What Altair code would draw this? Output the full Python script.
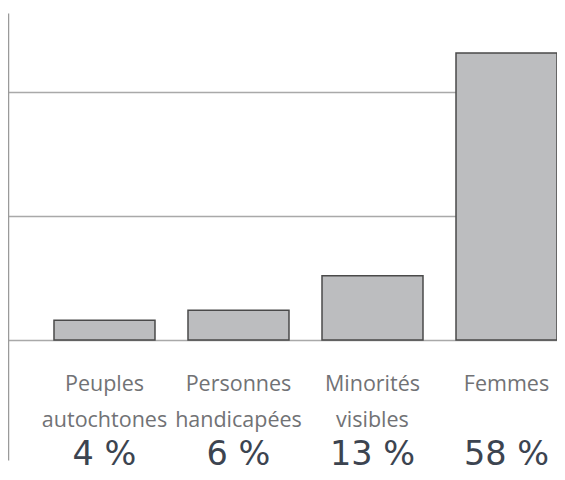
import altair as alt
import pandas as pd

categories = ["Peuples autochtones", "Personnes handicapées", "Minorités visibles", "Femmes"]
label_lines = ["Peuples\nautochtones", "Personnes\nhandicapées", "Minorités\nvisibles", "Femmes"]
values = [4, 6, 13, 58]
pct_labels = ["4 %", "6 %", "13 %", "58 %"]
grid_values = [0, 25, 50]

df = pd.DataFrame({"cat": categories, "lab": label_lines, "val": values, "pct": pct_labels})

xenc = alt.X("cat:N", sort=categories, axis=None,
             scale=alt.Scale(paddingInner=0.2463, paddingOuter=0.1716, align=1))
yscale = alt.Scale(domain=[-24.24, 66.06], nice=False, zero=False)

base = alt.Chart(df)

bars = base.mark_bar(fill="#bcbdbf", stroke="#4a4a4a", strokeWidth=1.5).encode(
    x=xenc,
    y=alt.Y("val:Q", scale=yscale,
            axis=alt.Axis(values=grid_values, labels=False, ticks=False, title=None,
                          domain=True, domainColor="#9a9a9a", domainWidth=1.5,
                          grid=True, gridColor="#a9a9a9", gridWidth=1.5)),
    y2=alt.datum(0),
)

labels = base.mark_text(font="Open Sans", fontSize=21.5, color="#717275", baseline="alphabetic",
                        align="center", lineBreak="\n", lineHeight=36, dy=51).encode(
    x=xenc, y=alt.datum(0), text="lab:N")

pcts = base.mark_text(font="DejaVu Sans", fontSize=33.5, color="#3c4450", baseline="alphabetic",
                      align="center", dy=125).encode(
    x=xenc, y=alt.datum(0), text="pct:N")

chart = alt.layer(bars, labels, pcts).properties(
    width=549, height=447,
    padding={"left": 0, "top": 5, "right": 0, "bottom": 7},
    autosize=alt.AutoSizeParams(type="none"),
).configure_view(stroke=None)

chart.save("out.html", embed_options={"renderer": "svg", "actions": False})
